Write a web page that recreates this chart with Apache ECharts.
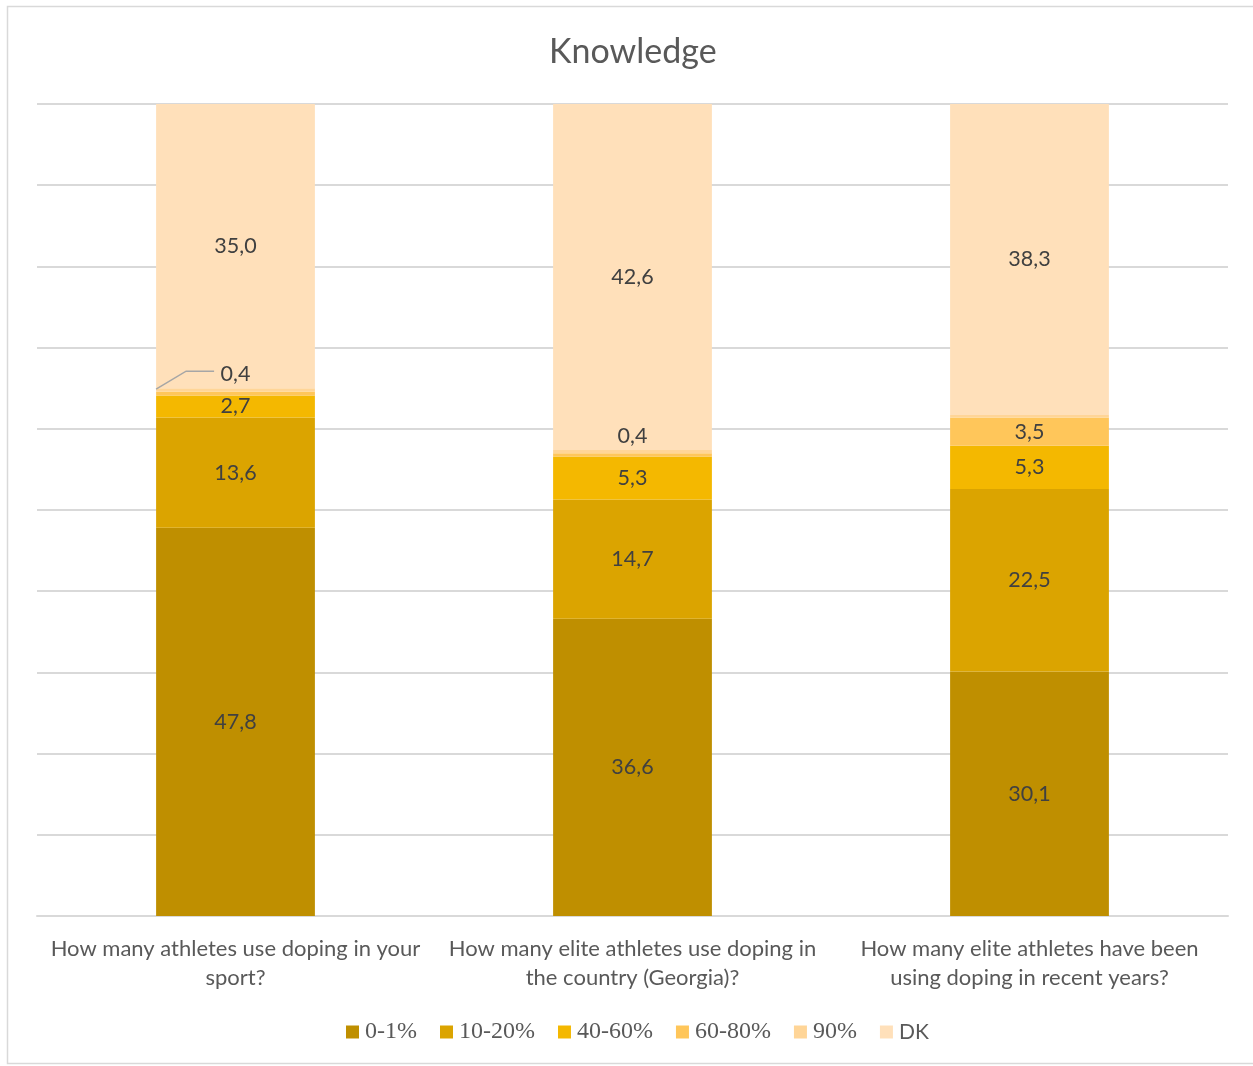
<!DOCTYPE html>
<html>
<head>
<meta charset="utf-8">
<script src="https://cdn.jsdelivr.net/npm/echarts@6/dist/echarts.min.js"></script>
<style>
  html, body { margin: 0; padding: 0; background: #fff; }
  #chart { width: 1253px; height: 1066px; }
</style>
</head>
<body>
<div id="chart"></div>
<script>
// Survey answers (share of respondents, %), stacked per question
const questions = [
  'How many athletes use doping in your\nsport?',
  'How many elite athletes use doping in\nthe country (Georgia)?',
  'How many elite athletes have been\nusing doping in recent years?'
];
const answerBands = ['0-1%', '10-20%', '40-60%', '60-80%', '90%', 'DK'];
const share01 = [47.8, 36.6, 30.1];
const share1020 = [13.6, 14.7, 22.5];
const share4060 = [2.7, 5.3, 5.3];
const share6080 = [0.5, 0.4, 3.5];
const share90 = [0.4, 0.4, 0.3];
const shareDK = [35.0, 42.6, 38.3];
// which small segments carry a printed value
const labelled6080 = [false, false, true];
const labelled90 = [true, true, false];

const bandColors = ['#BF8F00', '#DBA400', '#F4B800', '#FFC65A', '#FFD597', '#FFE0BA'];
const fontSans = 'Lato, "Open Sans", sans-serif';
const fontSerif = '"Liberation Serif", "DejaVu Serif", serif';
const BAR_RATIO = 0.4;

const fmt = v => v.toFixed(1).replace('.', ',');

function seriesFor(name, values, color, labelMask, labelPos) {
  return {
    name: name,
    type: 'bar',
    stack: 'total',
    barWidth: (BAR_RATIO * 100) + '%',
    itemStyle: { color: color },
    emphasis: { disabled: true },
    data: values.map((v, i) => ({
      value: v,
      label: {
        show: labelMask ? labelMask[i] : true,
        position: labelPos ? labelPos[i] : 'inside',
        distance: 3
      }
    })),
    label: {
      formatter: p => fmt(p.value),
      color: '#404040',
      fontFamily: fontSans,
      fontSize: 21.5
    }
  };
}

const chart = echarts.init(document.getElementById('chart'));
chart.setOption({
  animation: false,
  backgroundColor: '#fff',
  title: {
    text: 'Knowledge',
    left: 544,
    top: 30,
    textStyle: { color: '#595959', fontFamily: fontSans, fontSize: 34, fontWeight: 'normal' }
  },
  legend: {
    data: answerBands,
    bottom: 17,
    left: 341,
    itemWidth: 13,
    itemHeight: 13,
    itemGap: 23,
    icon: 'rect',
    textStyle: {
      color: '#595959', fontFamily: fontSerif, fontSize: 24, padding: [0, 0, 0, 1],
      rich: { sans: { fontFamily: fontSans, fontSize: 21, color: '#595959' } }
    },
    formatter: n => (n === 'DK' ? '{sans|' + n + '}' : n),
    selectedMode: false
  },
  grid: { left: 37, right: 25, top: 104, bottom: 150, containLabel: false },
  xAxis: {
    type: 'category',
    data: questions,
    axisTick: { show: false },
    axisLine: { lineStyle: { color: '#D9D9D9', width: 2 } },
    axisLabel: {
      color: '#595959',
      fontFamily: fontSans,
      fontSize: 22,
      lineHeight: 29,
      margin: 18,
      interval: 0
    }
  },
  yAxis: {
    type: 'value',
    min: 0,
    max: 100,
    interval: 10,
    axisLabel: { show: false },
    axisLine: { show: false },
    axisTick: { show: false },
    splitLine: { lineStyle: { color: '#D9D9D9', width: 2 } }
  },
  series: [
    seriesFor('0-1%', share01, bandColors[0]),
    seriesFor('10-20%', share1020, bandColors[1]),
    seriesFor('40-60%', share4060, bandColors[2]),
    seriesFor('60-80%', share6080, bandColors[3], labelled6080),
    seriesFor('90%', share90, bandColors[4], labelled90, ['top', 'top', 'inside']),
    seriesFor('DK', shareDK, bandColors[5])
  ]
});

// leader line from the first bar's thin 90% segment to its label
function drawLeader() {
  const i = 0;
  const stackTop = share01[i] + share1020[i] + share4060[i] + share6080[i] + share90[i];
  const center = chart.convertToPixel({ xAxisIndex: 0 }, questions[i]);
  const next = chart.convertToPixel({ xAxisIndex: 0 }, questions[i + 1]);
  const halfBar = (next - center) * BAR_RATIO / 2;
  const x0 = center - halfBar;
  const y0 = chart.convertToPixel({ yAxisIndex: 0 }, stackTop);
  const yLabel = y0 - 17;
  chart.setOption({
    graphic: [
      {
        type: 'polyline',
        shape: { points: [[x0, y0 + 1], [x0 + 30, yLabel], [x0 + 58, yLabel]] },
        style: { stroke: '#A6A6A6', lineWidth: 1.5, fill: null },
        silent: true,
        z: 10
      },
      {
        type: 'rect',
        shape: { x: 7.5, y: 6.5, width: 1260, height: 1057 },
        style: { stroke: '#D9D9D9', lineWidth: 1.5, fill: null },
        silent: true,
        z: -1
      }
    ]
  });
}
drawLeader();
</script>
</body>
</html>
